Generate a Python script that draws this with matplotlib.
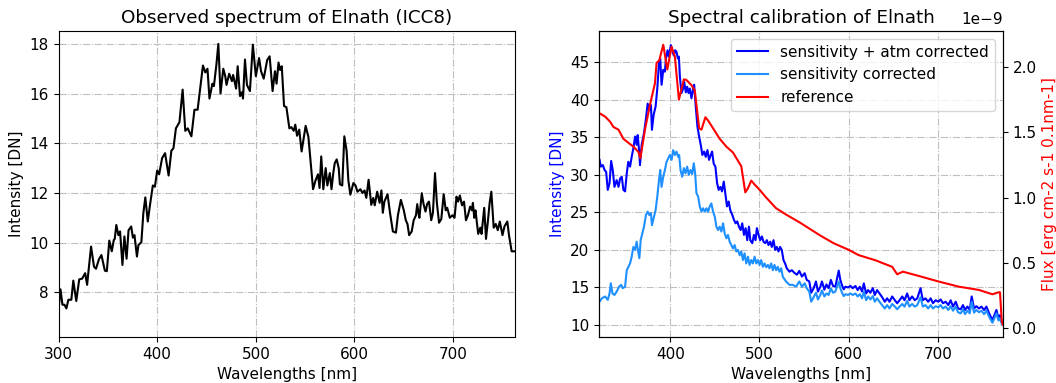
import matplotlib
matplotlib.use("Agg")
from matplotlib import pyplot as plt

# Observed spectrum (left panel)
wl_obs = [300, 302, 304, 306, 308, 310, 313, 315, 318, 321, 324, 327, 329, 330, 333, 336, 338,
          341, 343.5, 347, 349, 351.5, 354, 356, 357, 358.6, 360.7, 362.4, 364.8, 366.8, 369, 371,
          373.7, 375.4, 377, 379.5, 381, 384, 386, 388, 390.5, 392.5, 395.6, 397.7, 400, 402, 405,
          408, 411.6, 414.4, 416.5, 419, 422.6, 425.8, 428.5, 431, 434.7, 437.8, 441, 443, 446.4,
          448.8, 451, 453, 456, 457.5, 460, 462, 464.2, 467, 469, 470.3, 473, 475.8, 477, 480,
          481.6, 484, 485.8, 487, 489, 491, 494, 497, 500, 503.3, 505.3, 508, 511.5, 514, 517,
          519.4, 521, 523, 524.6, 526.3, 528.6, 531, 534, 536, 538.4, 540, 541.8, 544, 546.4,
          550.5, 553.3, 558, 560.5, 563, 564.6, 566.3, 568.4, 570.8, 572.5, 575, 576.7, 578.5,
          580, 582, 584, 585.2, 587.6, 589.7, 592, 593.8, 595.8, 598.9, 601, 603, 606, 608,
          610.2, 612, 614.3, 617, 619, 620.5, 623, 625.5, 627.3, 628.7, 630.3, 633.5, 636, 638.9,
          642, 644, 647, 650, 652, 653.7, 655.4, 658, 660, 662.3, 663.6, 665, 665.8, 668.2, 670,
          672, 673.6, 675.5, 677.8, 679.5, 681.6, 683.5, 685.7, 688, 690.4, 692.5, 694, 696.6,
          699.3, 701.4, 703.4, 705, 706.8, 709, 711, 713, 715, 717.2, 719, 720, 721.4, 722.6,
          725.4, 727.5, 728.8, 731.5, 733.3, 735.3, 737, 738.7, 741.1, 743.2, 745.2, 747.3, 750,
          752, 754.9, 756.6, 759.3, 763.5]
int_obs = [7.29, 8.12, 7.5, 7.5, 7.35, 7.7, 7.7, 8.47, 7.65, 8.52, 8.55, 8.77, 8.3, 8.7, 9.84,
           9.03, 8.95, 9.33, 9.5, 8.87, 8.85, 10.08, 9.65, 10.1, 10.15, 10.71, 10.3, 10.45, 9.1,
           10.25, 9.35, 10.5, 10.65, 10.2, 10.3, 9.44, 9.9, 10.02, 11.19, 11.82, 10.85, 11.45,
           12.3, 12.25, 12.9, 12.75, 13.4, 13.6, 12.7, 13.7, 13.8, 14.6, 14.85, 16.16, 14.5, 14.6,
           14.28, 15.35, 15.35, 16.0, 17.13, 16.85, 17.0, 15.8, 16.4, 16.3, 17.15, 18.0, 16.0,
           17.0, 16.7, 16.35, 16.8, 16.5, 16.75, 16.2, 17.1, 15.9, 16.05, 15.8, 17.37, 16.35, 16.1,
           17.97, 16.7, 17.43, 16.9, 16.6, 17.35, 17.5, 16.1, 16.9, 16.4, 17.25, 16.95, 17.1, 15.5,
           15.45, 14.6, 14.65, 14.5, 14.75, 14.3, 14.55, 13.67, 14.7, 14.25, 12.15, 12.5, 12.75,
           12.2, 13.47, 12.15, 13.0, 12.3, 12.8, 12.15, 12.8, 13.2, 13.35, 13.0, 12.35, 12.3,
           14.28, 13.7, 12.5, 11.93, 12.4, 12.3, 12.05, 12.15, 12.0, 12.1, 11.8, 12.53, 11.52,
           11.8, 11.5, 12.05, 11.6, 12.1, 11.2, 11.65, 11.95, 11.2, 10.45, 10.4, 11.1, 11.72, 11.3,
           10.9, 10.75, 10.3, 10.45, 10.9, 11.1, 11.55, 11.15, 11.0, 11.99, 11.55, 11.25, 11.55,
           11.65, 10.9, 11.2, 12.8, 11.6, 10.8, 10.95, 11.95, 11.3, 11.4, 11.0, 11.1, 11.0, 11.85,
           11.65, 11.9, 11.5, 11.65, 10.9, 11.1, 11.45, 11.3, 11.6, 11.0, 11.3, 10.35, 10.6,
           10.35, 11.4, 10.15, 10.9, 11.6, 12.05, 10.6, 10.75, 10.5, 10.85, 10.3, 10.65, 10.85,
           10.3, 9.65, 9.65]

# Sensitivity + atmosphere corrected (right panel, dark blue)
wl_atm = [320.8, 322.3, 324.5, 326.4, 328.2, 330, 332, 333.8, 335.6, 337.5, 340, 342, 343.8,
          345.7, 347.5, 349.4, 351.3, 353, 355, 356.8, 358.7, 360.6, 362.4, 363.5, 365.4, 366.1,
          368, 370.6, 372.8, 374.7, 376.6, 378.4, 379.5, 381.4, 383.6, 385.5, 387.4, 388.8, 390.3,
          392.2, 394, 395.2, 397, 398.5, 400.7, 402.6, 404, 405.6, 407, 408.6, 409.7, 410.8,
          412.6, 414.5, 415.6, 417.5, 419, 420.5, 422, 423.8, 425.7, 426.8, 428.6, 430.5, 432.4,
          434.2, 436, 438, 439.8, 441.7, 443.5, 445.4, 446.9, 448.7, 450.6, 452.5, 454.3, 456.2,
          458, 460, 461.8, 463.6, 465.5, 467.3, 469.6, 471.4, 473.3, 475.1, 477, 478.9, 480.7,
          482.6, 484.5, 486.3, 488.2, 489.7, 491.9, 493.8, 495.6, 497.1, 499, 500.8, 502.7, 504.5,
          506.4, 508.3, 510.1, 512, 513.8, 515.7, 517.6, 519.4, 521.3, 523.1, 525, 526.9, 528.7,
          530.6, 533.6, 536.2, 539.1, 542, 544.6, 547.6, 550.6, 553, 555.8, 558, 560.7, 563.3,
          565.5, 568.2, 570, 572.7, 575, 577.5, 580, 582.4, 585, 586.9, 588.8, 590.6, 592.5,
          594.4, 596.3, 599.3, 601.9, 604.5, 607.5, 610, 612.4, 615, 616.9, 619.5, 621.7, 624.3,
          627, 629.2, 631.8, 634.5, 637.5, 640.4, 643, 645.7, 648.7, 651.7, 654.3, 657, 660,
          662.5, 665.5, 668, 671, 674, 676.8, 680.5, 683, 686, 689, 691.8, 694.4, 697.4, 700.4,
          703, 705.6, 708.6, 711.6, 714.2, 716.9, 719.9, 722.5, 725.5, 728, 730.3, 733, 735.6,
          737.8, 740.4, 743, 746, 748.7, 751.7, 754.3, 757.3, 761, 764, 765.5, 767.8, 769.3, 771.5]
int_atm = [32.0, 31.1, 31.3, 30.65, 30.4, 28.0, 28.9, 31.85, 30.65, 28.4, 29.3, 28.4, 29.5, 29.75,
           28.0, 27.8, 30.2, 31.75, 31.1, 32.4, 33.55, 35.1, 34.0, 35.3, 32.9, 31.3, 34.0, 35.55,
           37.5, 39.5, 38.65, 39.3, 36.0, 38.0, 39.1, 41.5, 44.9, 45.5, 42.0, 44.0, 43.75, 45.5,
           46.6, 45.75, 47.3, 46.4, 45.9, 46.6, 46.4, 45.5, 45.75, 43.1, 40.9, 41.5, 42.4, 41.0,
           41.75, 40.9, 41.5, 40.2, 41.5, 42.0, 39.1, 36.4, 35.1, 34.0, 32.65, 33.1, 32.4, 33.3,
           32.0, 32.65, 33.1, 31.5, 31.1, 28.9, 28.0, 28.4, 27.8, 29.1, 27.5, 25.8, 26.45, 25.3,
           24.65, 24.0, 23.55, 23.8, 23.1, 22.65, 23.55, 22.0, 22.9, 21.3, 23.1, 21.3, 20.9, 22.0,
           21.3, 22.9, 22.0, 21.3, 21.8, 21.1, 20.9, 21.3, 20.65, 21.1, 20.4, 21.3, 20.0, 20.4,
           19.8, 20.4, 20.0, 18.65, 18.2, 17.55, 17.1, 17.3, 16.95, 16.7, 17.2, 16.45, 16.9, 16.0,
           15.8, 14.3, 14.9, 15.8, 14.45, 15.1, 15.8, 14.7, 15.4, 14.9, 16.0, 15.2, 15.1, 16.2,
           17.25, 16.0, 15.3, 14.75, 15.1, 15.0, 15.2, 14.9, 15.2, 14.65, 15.1, 14.45, 15.55, 14.2,
           14.65, 14.3, 14.9, 14.0, 14.65, 14.2, 13.7, 13.1, 13.55, 13.1, 13.8, 13.3, 12.9, 13.3,
           13.8, 13.3, 14.2, 13.3, 13.8, 13.3, 13.55, 14.9, 13.3, 13.55, 13.1, 13.55, 12.9, 13.3,
           13.1, 13.4, 12.9, 13.1, 12.65, 13.3, 12.45, 13.1, 12.2, 12.1, 12.65, 12.0, 12.45, 12.0,
           13.8, 12.2, 12.5, 12.2, 12.45, 12.0, 12.45, 11.55, 10.65, 11.55, 12.0, 10.9, 11.3, 10.45]

# Sensitivity corrected (right panel, light blue)
wl_sens = [320.8, 323.4, 327, 330, 332, 333.4, 335.3, 337.5, 340, 342.7, 345, 346.8, 349.4,
           351.3, 353, 355, 356.8, 358.7, 360.6, 362.4, 363.5, 365.4, 366.9, 368.8, 370.6, 372.8,
           374.7, 376.6, 378.4, 379.5, 381.4, 383.6, 385.5, 387.4, 388.8, 390.3, 392.2, 394,
           395.9, 397.8, 399.6, 401.5, 403.3, 405.2, 407, 408.9, 410, 411.5, 413.4, 415.3, 417.1,
           419, 420.8, 422.7, 424.6, 426.4, 427.9, 429.4, 431.3, 433.1, 435, 436.8, 438.7, 440.6,
           442.4, 444.3, 446.1, 448, 449.9, 451.7, 453.6, 455.4, 457.3, 459.2, 461, 462.9, 464.7,
           466.6, 468.5, 470.3, 472.2, 474, 475.9, 477.8, 479.6, 481.5, 483.3, 485.2, 487.1,
           488.9, 490.8, 492.6, 494.5, 496.4, 498.2, 500.1, 501.9, 503.8, 505.7, 507.5, 509.4,
           511.2, 513.1, 515, 516.8, 518.7, 520.5, 522.4, 524.3, 526.1, 528, 529.8, 533.6, 537.3,
           541, 544.6, 547.6, 550.6, 553, 555.8, 558, 560.7, 563.3, 565.5, 568.2, 570, 572.7, 575,
           577.5, 580, 582.4, 585, 586.9, 588.8, 590.6, 592.5, 594.4, 596.3, 599.3, 601.9, 604.5,
           607.5, 610, 612.4, 615, 616.9, 619.5, 621.7, 624.3, 627, 629.2, 631.8, 634.5, 637.5,
           640.4, 643, 645.7, 648.7, 651.7, 654.3, 657, 660, 662.5, 665.5, 668, 671, 674, 676.8,
           680.5, 683, 686, 689, 691.8, 694.4, 697.4, 700.4, 703, 705.6, 708.6, 711.6, 714.2,
           716.9, 719.9, 722.5, 725.5, 728, 730.3, 733, 735.6, 737.8, 740.4, 743, 746, 748.7,
           751.7, 754.3, 757.3, 761, 764, 765.5, 767.8, 769.3, 771.5]
int_sens = [13.1, 13.55, 13.8, 13.35, 14.2, 15.55, 14.2, 14.0, 14.45, 15.1, 15.35, 14.9, 15.1,
            17.3, 17.7, 18.2, 19.1, 20.4, 20.0, 21.1, 20.2, 18.9, 21.35, 22.2, 23.1, 24.65, 25.1,
            24.65, 24.9, 23.3, 24.2, 25.3, 27.1, 29.3, 30.65, 28.4, 29.75, 30.65, 31.75, 32.2,
            32.65, 32.0, 33.3, 32.65, 33.1, 32.4, 32.65, 30.65, 29.75, 30.9, 30.2, 31.1, 30.0,
            30.65, 30.1, 31.55, 30.2, 27.55, 27.1, 25.8, 25.1, 25.55, 25.1, 25.55, 25.1, 25.8,
            26.2, 25.1, 24.45, 23.1, 22.65, 23.1, 22.45, 23.55, 22.2, 21.55, 22.0, 21.1, 20.65,
            20.2, 20.65, 19.8, 20.0, 19.3, 19.8, 18.65, 19.55, 18.2, 19.1, 18.0, 18.65, 18.2, 19.1,
            18.2, 18.65, 18.0, 18.65, 17.75, 18.2, 17.7, 18.0, 17.55, 18.2, 17.3, 18.0, 17.3,
            17.75, 17.1, 17.55, 16.45, 16.1, 15.8, 15.35, 15.35, 15.1, 15.8, 15.1, 15.55, 14.9,
            14.45, 13.1, 13.7, 14.3, 13.4, 14.0, 14.6, 13.8, 14.2, 14.0, 14.9, 14.3, 14.45, 15.1,
            15.8, 14.9, 14.3, 13.85, 14.1, 14.0, 14.2, 14.0, 14.2, 13.8, 14.1, 13.55, 14.45, 13.3,
            13.8, 13.4, 13.85, 13.1, 13.55, 13.1, 12.65, 12.2, 12.65, 12.2, 12.8, 12.45, 12.1,
            12.45, 12.8, 12.45, 13.2, 12.45, 12.8, 12.45, 12.65, 13.7, 12.45, 12.65, 12.2, 12.65,
            12.2, 12.5, 12.35, 12.65, 12.2, 12.45, 12.0, 12.5, 11.9, 12.45, 11.7, 11.55, 12.1,
            11.45, 11.9, 11.55, 13.1, 11.65, 12.0, 11.7, 11.9, 11.45, 11.9, 11.1, 10.3, 11.1,
            11.55, 10.6, 10.9, 10.15]

# Reference flux (right panel, red, units of 1e-9)
wl_ref = [320.8, 327, 332.7, 336.4, 342, 347.5, 353, 358.7, 364.3, 366.5, 371.7, 377.3, 382.9,
          384.7, 387.7, 392.2, 396.7, 401.5, 405.2, 409.7, 415.3, 418.2, 423.8, 427.5, 432.4,
          435, 439.4, 442.4, 448, 455.4, 462.9, 470.3, 479.6, 484.1, 487, 490.8, 494.5, 500.1,
          507.5, 518.7, 529.8, 545, 556.5, 568, 583.3, 600, 611, 630, 648.7, 654.3, 660.7,
          678.6, 701, 723.6, 746, 757.3, 761, 767.8, 769.5, 771.5, 773]
flux_ref = [1.645, 1.62, 1.58, 1.54, 1.52, 1.45, 1.42, 1.39, 1.35, 1.30, 1.52, 1.71, 1.875,
            2.03, 2.05, 2.17, 1.98, 2.155, 2.08, 1.75, 1.905, 1.90, 1.86, 1.82, 1.53, 1.52, 1.615,
            1.59, 1.53, 1.45, 1.39, 1.345, 1.24, 1.04, 1.07, 1.13, 1.10, 1.06, 1.0, 0.918, 0.87,
            0.81, 0.76, 0.71, 0.65, 0.60, 0.56, 0.52, 0.47, 0.413, 0.433, 0.40, 0.357, 0.318,
            0.293, 0.268, 0.26, 0.275, 0.275, 0.05, 0.025]
flux_ref = [v * 1e-9 for v in flux_ref]

plt.rcParams['font.size'] = 11
fig = plt.figure(figsize=(10.56, 3.83), dpi=100)

#####################################################################
# Observed spectrum
#####################################################################
ax = fig.add_axes([0.0554, 0.1201, 0.4323, 0.799])
ax.plot(wl_obs, int_obs, color="black", linewidth=1.5)
ax.set_xlim(300, 762.7)
ax.set_ylim(6.2, 18.52)
ax.set_yticks([8, 10, 12, 14, 16, 18])
ax.grid(True, linestyle="-.", color="0.75")
ax.set_title("Observed spectrum of Elnath (ICC8)")
ax.set_xlabel("Wavelengths [nm]")
ax.set_ylabel("Intensity [DN]")

#####################################################################
# Spectral calibration
#####################################################################
ax1 = fig.add_axes([0.5675, 0.1201, 0.382, 0.799])
l1, = ax1.plot(wl_atm, int_atm, color="blue", linewidth=1.5, label="sensitivity + atm corrected")
l2, = ax1.plot(wl_sens, int_sens, color="dodgerblue", linewidth=1.5, label="sensitivity corrected")
ax1.set_xlim(320.5, 772.5)
ax1.set_ylim(8.4, 49.17)
ax1.grid(True, linestyle="-.", color="0.75")
ax1.set_xlabel("Wavelengths [nm]")
ax1.set_ylabel("Intensity [DN]", color="blue")
ax1.set_title("Spectral calibration of Elnath")

ax2 = ax1.twinx()
l3, = ax2.plot(wl_ref, flux_ref, color="red", linewidth=1.5, label="reference")
ax2.set_ylim(-0.067e-9, 2.275e-9)
ax2.set_ylabel("Flux [erg cm-2 s-1 0.1nm-1]", color="red")
# scale factor shown right-aligned with the right spine
ax2.yaxis.get_offset_text().set_visible(False)
ax2.text(1.0, 1.012, "1e\u22129", transform=ax2.transAxes, ha="right", va="bottom")

ax1.legend(handles=[l1, l2, l3], loc="upper right")

plt.savefig("out.png", dpi=100)
